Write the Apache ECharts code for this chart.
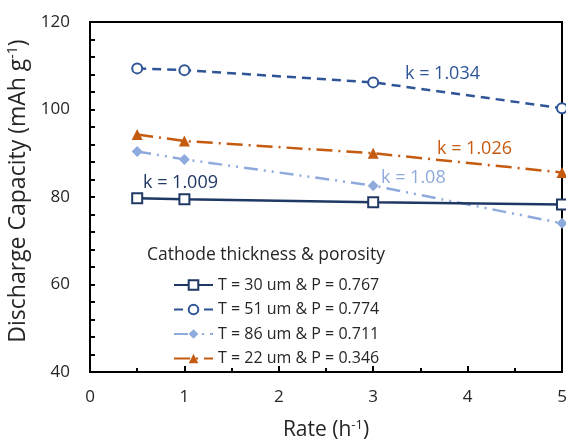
<!DOCTYPE html>
<html>
<head>
<meta charset="utf-8">
<script src="https://cdn.jsdelivr.net/npm/echarts@6/dist/echarts.min.js"></script>
<style>html,body{margin:0;padding:0;background:#fff}#c{width:566px;height:439px}</style>
</head>
<body>
<div id="c"></div>
<script>
const rates = [0.5, 1, 3, 5];
const seriesNames = ['T = 30 um & P = 0.767', 'T = 51 um & P = 0.774', 'T = 86 um & P = 0.711', 'T = 22 um & P = 0.346'];
const s30 = [79.7, 79.5, 78.8, 78.3];
const s51 = [109.4, 109.0, 106.2, 100.3];
const s86 = [90.4, 88.6, 82.6, 74.0];
const s22 = [94.3, 92.8, 90.0, 85.6];
const kLabels = ['k = 1.009', 'k = 1.034', 'k = 1.08', 'k = 1.026'];
const legendTitle = 'Cathode thickness & porosity';

const FONT = '"Open Sans", sans-serif';
const TXT = '#262626';
const pair = arr => rates.map((r, i) => [r, arr[i]]);
const chart = echarts.init(document.getElementById('c'));
chart.setOption({
  animation: false,
  textStyle: {fontFamily: FONT},
  grid: {left: 90, right: 4, top: 22, bottom: 67, containLabel: false, outerBoundsMode: 'none',
         show: true, borderColor: '#000', borderWidth: 2, backgroundColor: 'transparent'},
  xAxis: {
    type: 'value', min: 0, max: 5, interval: 1,
    name: 'Rate (h{sup|-1})', nameLocation: 'middle', nameGap: 47,
    nameTextStyle: {fontSize: 21, color: TXT, fontFamily: FONT, rich: {sup: {fontSize: 13, verticalAlign: 'top', padding: [0,0,10,0], fontFamily: FONT, color: TXT}}},
    axisLine: {lineStyle: {color: '#000', width: 2}},
    axisTick: {inside: true, length: 6, lineStyle: {color: '#000', width: 2}},
    minorTick: {show: true, splitNumber: 2, length: 4, lineStyle: {color: '#000', width: 2}},
    axisLabel: {fontSize: 17, color: TXT, margin: 17, fontFamily: FONT},
    splitLine: {show: false}
  },
  yAxis: {
    type: 'value', min: 40, max: 120, interval: 20,
    name: 'Discharge Capacity (mAh g{sup|-1})', nameLocation: 'middle', nameGap: 56,
    nameTextStyle: {fontSize: 23, color: TXT, fontFamily: FONT, padding: [0, 0, 0, 12],
      rich: {sup: {fontSize: 14, verticalAlign: 'top', padding: [0,0,11,0], fontFamily: FONT, color: TXT}}},
    axisLine: {lineStyle: {color: '#000', width: 2}},
    axisTick: {inside: true, length: 5, lineStyle: {color: '#000', width: 2}},
    minorTick: {show: true, splitNumber: 5, length: 5, lineStyle: {color: '#000', width: 2}},
    axisLabel: {fontSize: 17, color: TXT, margin: 20, fontFamily: FONT},
    splitLine: {show: false}
  },
  legend: {
    orient: 'vertical', left: 168, top: 272, itemWidth: 39, itemHeight: 12, itemGap: 8.5,
    textStyle: {fontSize: 16, color: TXT, fontFamily: FONT},
    data: seriesNames
  },
  graphic: [
    {type: 'text', left: 147, top: 246, style: {text: legendTitle, fontSize: 17.5, fill: TXT, fontFamily: FONT}},
    {type: 'text', left: 143, top: 174, style: {text: kLabels[0], fontSize: 18, fill: '#203864', fontFamily: FONT}},
    {type: 'text', left: 405, top: 65, style: {text: kLabels[1], fontSize: 18, fill: '#2F5597', fontFamily: FONT}},
    {type: 'text', left: 381, top: 169, style: {text: kLabels[2], fontSize: 18, fill: '#8FAADC', fontFamily: FONT}},
    {type: 'text', left: 437, top: 140, style: {text: kLabels[3], fontSize: 18, fill: '#C55A11', fontFamily: FONT}}
  ],
  series: [
    {name: seriesNames[0], type: 'line', data: pair(s30), symbol: 'rect', symbolSize: 10,
     itemStyle: {color: '#fff', borderColor: '#203864', borderWidth: 2}, lineStyle: {color: '#203864', width: 2.5}, z: 4},
    {name: seriesNames[1], type: 'line', data: pair(s51), symbol: 'circle', symbolSize: 10,
     itemStyle: {color: '#fff', borderColor: '#2F5597', borderWidth: 2}, lineStyle: {color: '#2F5597', width: 2.5, type: [9, 6]}, z: 4},
    {name: seriesNames[2], type: 'line', data: pair(s86), symbol: 'diamond', symbolSize: 11,
     itemStyle: {color: '#8FAADC'}, lineStyle: {color: '#8FAADC', width: 2.5, type: [14, 6, 2, 6, 2, 6]}, z: 3},
    {name: seriesNames[3], type: 'line', data: pair(s22), symbol: 'triangle', symbolSize: 11,
     itemStyle: {color: '#C55A11'}, lineStyle: {color: '#C55A11', width: 2.5, type: [16, 6, 2, 6]}, z: 3}
  ]
});
</script>
</body>
</html>
